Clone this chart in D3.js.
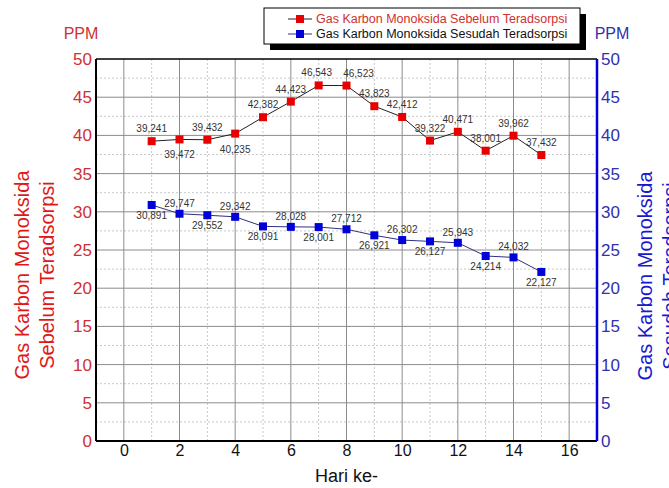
<!DOCTYPE html>
<html>
<head>
<meta charset="utf-8">
<script src="https://cdn.jsdelivr.net/npm/d3@7"></script>
<style>
  body { margin: 0; background: #fff; }
  svg { font-family: Arial, "Liberation Sans", sans-serif; }
</style>
</head>
<body>
<div id="chart"></div>
<script>
// data
var hari = [1, 2, 3, 4, 5, 6, 7, 8, 9, 10, 11, 12, 13, 14, 15];
var sebelum = [39.241, 39.472, 39.432, 40.235, 42.382, 44.423, 46.543, 46.523,
               43.823, 42.412, 39.322, 40.471, 38.001, 39.962, 37.432];
var sesudah = [30.891, 29.747, 29.552, 29.342, 28.091, 28.028, 28.001, 27.712,
               26.921, 26.302, 26.127, 25.943, 24.214, 24.032, 22.127];
var xTicks = [0, 2, 4, 6, 8, 10, 12, 14, 16];
var yTicks = [0, 5, 10, 15, 20, 25, 30, 35, 40, 45, 50];
var legendNames = ["Gas Karbon Monoksida Sebelum Teradsorpsi",
                   "Gas Karbon Monoksida Sesudah Teradsorpsi"];

var margin = {top: 59, right: 72, bottom: 47, left: 96},
    width = 669 - margin.left - margin.right,
    height = 488 - margin.top - margin.bottom;

var red = "#e60000", blue = "#0000d8";
var redText = "#d03030", blueText = "#3030b0";

var svg = d3.select("#chart")
  .append("svg")
    .attr("width", 669)
    .attr("height", 488);

var g = svg.append("g")
    .attr("transform", "translate(" + margin.left + "," + margin.top + ")");

var x = d3.scaleLinear().domain([-1, 17]).range([0, width]);
var yL = d3.scaleLinear().domain([0, 50]).range([height, 0]);
var yR = d3.scaleLinear().domain([0, 50]).range([height, 0]);

// minor grid (dotted)
g.append("g")
  .selectAll("line")
  .data(d3.range(1, 17, 2))
  .enter().append("line")
    .attr("x1", function (d) { return x(d); })
    .attr("x2", function (d) { return x(d); })
    .attr("y1", 0).attr("y2", height)
    .attr("stroke", "#c8c8c8")
    .attr("stroke-dasharray", "2,2");

g.append("g")
  .selectAll("line")
  .data(d3.range(2.5, 50, 5))
  .enter().append("line")
    .attr("x1", 0).attr("x2", width)
    .attr("y1", function (d) { return yL(d); })
    .attr("y2", function (d) { return yL(d); })
    .attr("stroke", "#c8c8c8")
    .attr("stroke-dasharray", "2,2");

// major grid (solid)
g.append("g")
  .selectAll("line")
  .data(xTicks)
  .enter().append("line")
    .attr("x1", function (d) { return x(d); })
    .attr("x2", function (d) { return x(d); })
    .attr("y1", 0).attr("y2", height)
    .attr("stroke", "#8c8c8c");

g.append("g")
  .selectAll("line")
  .data(yTicks.slice(1, -1))
  .enter().append("line")
    .attr("x1", 0).attr("x2", width)
    .attr("y1", function (d) { return yL(d); })
    .attr("y2", function (d) { return yL(d); })
    .attr("stroke", "#8c8c8c");

// axes
var xAxis = g.append("g")
  .attr("transform", "translate(0," + height + ")")
  .call(d3.axisBottom(x).tickValues(xTicks).tickSize(0).tickPadding(4));
xAxis.select(".domain").remove();
xAxis.selectAll("text")
  .attr("font-size", "16px")
  .attr("fill", "#111");

var leftAxis = g.append("g")
  .call(d3.axisLeft(yL).tickValues(yTicks).tickSize(0).tickPadding(4));
leftAxis.select(".domain").remove();
leftAxis.selectAll("text")
  .attr("font-size", "17px")
  .attr("fill", redText);

var rightAxis = g.append("g")
  .attr("transform", "translate(" + width + ",0)")
  .call(d3.axisRight(yR).tickValues(yTicks).tickSize(0).tickPadding(4));
rightAxis.select(".domain").remove();
rightAxis.selectAll("text")
  .attr("font-size", "17px")
  .attr("fill", blueText);

// frame
g.append("line").attr("x1", 0).attr("x2", width).attr("y1", 0).attr("y2", 0)
  .attr("stroke", "#000").attr("stroke-width", 1.5);
g.append("line").attr("x1", 0).attr("x2", width).attr("y1", height).attr("y2", height)
  .attr("stroke", "#000").attr("stroke-width", 2);
g.append("line").attr("x1", 0).attr("x2", 0).attr("y1", 0).attr("y2", height)
  .attr("stroke", "#000").attr("stroke-width", 2);
g.append("line").attr("x1", width).attr("x2", width).attr("y1", 0).attr("y2", height)
  .attr("stroke", blue).attr("stroke-width", 2.5);

// series
function drawSeries(values, y, lineColor, markColor, labelDy, labelDx) {
  var pts = hari.map(function (d, i) { return [d, values[i]]; });
  g.append("path")
    .datum(pts)
    .attr("fill", "none")
    .attr("stroke", lineColor)
    .attr("stroke-width", 1)
    .attr("d", d3.line()
      .x(function (d) { return x(d[0]); })
      .y(function (d) { return y(d[1]); }));

  g.append("g")
    .selectAll("rect")
    .data(pts)
    .enter().append("rect")
      .attr("x", function (d) { return x(d[0]) - 4; })
      .attr("y", function (d) { return y(d[1]) - 4; })
      .attr("width", 8)
      .attr("height", 8)
      .attr("fill", markColor);

  g.append("g")
    .selectAll("text")
    .data(pts)
    .enter().append("text")
      .attr("x", function (d, i) { return x(d[0]) + labelDx(i); })
      .attr("y", function (d, i) { return y(d[1]) + labelDy(i); })
      .attr("text-anchor", "middle")
      .attr("font-size", "10px")
      .attr("fill", "#333")
      .text(function (d) { return d[1].toFixed(3).replace(".", ","); });
}

// red: below only at day 2 and 4; day 7/8 labels pushed apart
drawSeries(sebelum, yL, "#222", red, function (i) {
  return (i === 1 || i === 3) ? 19 : -9;
}, function (i) {
  return i === 6 ? -2 : (i === 7 ? 12 : 0);
});
// blue: alternating below / above
drawSeries(sesudah, yR, "#303080", blue, function (i) {
  return (i % 2 === 0) ? 14 : -7;
}, function () { return 0; });

// axis titles
svg.append("text")
  .attr("x", 81).attr("y", 39)
  .attr("text-anchor", "middle")
  .attr("font-size", "16px")
  .attr("fill", redText)
  .text("PPM");
svg.append("text")
  .attr("x", 612).attr("y", 39)
  .attr("text-anchor", "middle")
  .attr("font-size", "16px")
  .attr("fill", blueText)
  .text("PPM");

var leftTitle = svg.append("text")
  .attr("transform", "translate(0,275) rotate(-90)")
  .attr("text-anchor", "middle")
  .attr("font-size", "20px")
  .attr("fill", "#e01818");
leftTitle.append("tspan").attr("x", 0).attr("y", 29).text("Gas Karbon Monoksida");
leftTitle.append("tspan").attr("x", 0).attr("y", 54).text("Sebelum Teradsorpsi");

var rightTitle = svg.append("text")
  .attr("transform", "translate(0,276) rotate(-90)")
  .attr("text-anchor", "middle")
  .attr("font-size", "20px")
  .attr("fill", "#1818d0");
rightTitle.append("tspan").attr("x", 0).attr("y", 652).text("Gas Karbon Monoksida");
rightTitle.append("tspan").attr("x", 0).attr("y", 677).text("Sesudah Teradsorpsi");

svg.append("text")
  .attr("x", margin.left + x(8))
  .attr("y", 482)
  .attr("text-anchor", "middle")
  .attr("font-size", "18px")
  .attr("fill", "#111")
  .text("Hari ke-");

// legend
var legend = svg.append("g").attr("transform", "translate(264,8)");
legend.append("rect")
  .attr("x", 6).attr("y", 6).attr("width", 316).attr("height", 36)
  .attr("fill", "#000");
legend.append("rect")
  .attr("x", 0).attr("y", 0).attr("width", 316).attr("height", 36)
  .attr("fill", "#fff").attr("stroke", "#000").attr("stroke-width", 1);

var legendColors = [[ "#222", red, redText ], [ "#303080", blue, "#111" ]];
legendNames.forEach(function (name, i) {
  var row = legend.append("g").attr("transform", "translate(0," + (11 + i * 15) + ")");
  row.append("line")
    .attr("x1", 24).attr("x2", 48).attr("y1", 0).attr("y2", 0)
    .attr("stroke", legendColors[i][0]);
  row.append("rect")
    .attr("x", 32).attr("y", -4).attr("width", 8).attr("height", 8)
    .attr("fill", legendColors[i][1]);
  row.append("text")
    .attr("x", 52).attr("y", 4)
    .attr("font-size", "12.5px")
    .attr("fill", legendColors[i][2])
    .text(name);
});
</script>
</body>
</html>
